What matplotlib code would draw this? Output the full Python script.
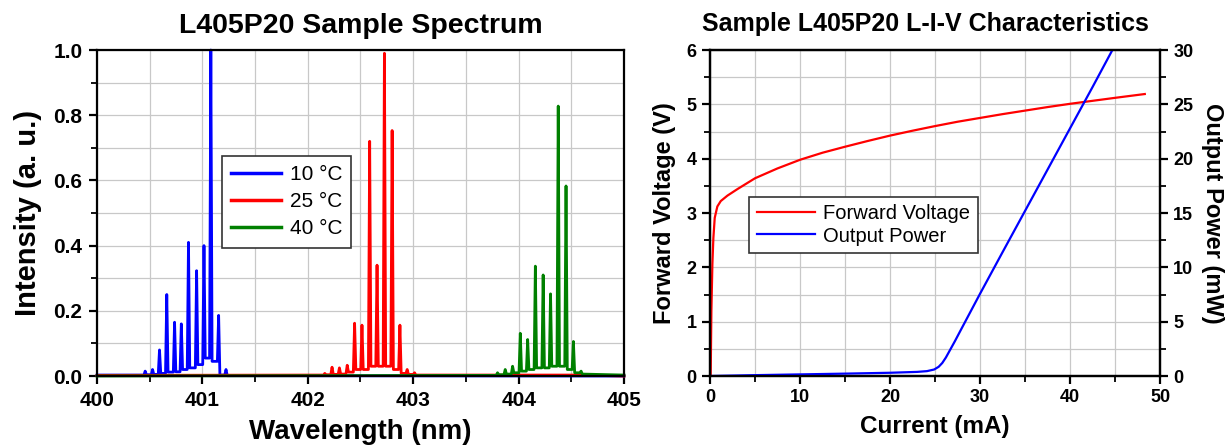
import matplotlib
matplotlib.use("Agg")
import matplotlib.pyplot as plt
from matplotlib.ticker import MultipleLocator, FormatStrFormatter

plt.rcParams['font.family'] = ['Liberation Sans', 'DejaVu Sans']

# ---------------- Spectrum data ----------------
# peak centres (nm), peak heights, and valley floors around/between the peaks
peaks_10 = [400.457, 400.527, 400.593, 400.662, 400.736, 400.800, 400.868,
            400.945, 401.015, 401.080, 401.154, 401.224]
heights_10 = [0.015, 0.02, 0.08, 0.25, 0.165, 0.16, 0.41, 0.323, 0.40, 1.0,
              0.186, 0.02]
valleys_10 = [0.003, 0.004, 0.005, 0.008, 0.012, 0.013, 0.02, 0.025, 0.035,
              0.055, 0.045, 0.003, 0.001]
lead_wl_10, lead_int_10 = [400.00], [0.003]
tail_wl_10, tail_int_10 = [401.35, 405.00], [0.001, 0.0]

peaks_25 = [402.161, 402.230, 402.300, 402.374, 402.444, 402.514, 402.587,
            402.657, 402.727, 402.800, 402.874, 402.943, 403.013]
heights_25 = [0.008, 0.027, 0.025, 0.033, 0.162, 0.156, 0.72, 0.34, 0.99,
              0.753, 0.156, 0.02, 0.01]
valleys_25 = [0.003, 0.004, 0.005, 0.006, 0.012, 0.02, 0.02, 0.03, 0.03, 0.03,
              0.02, 0.008, 0.005, 0.003]
lead_wl_25, lead_int_25 = [400.00, 402.05], [0.002, 0.003]
tail_wl_25, tail_int_25 = [404.60, 405.00], [0.003, 0.0]

peaks_40 = [403.800, 403.873, 403.943, 404.016, 404.086, 404.159, 404.233,
            404.303, 404.376, 404.450, 404.520, 404.593]
heights_40 = [0.01, 0.02, 0.03, 0.131, 0.112, 0.337, 0.31, 0.252, 0.828,
              0.583, 0.106, 0.015]
valleys_40 = [0.002, 0.004, 0.006, 0.01, 0.015, 0.02, 0.025, 0.025, 0.03,
              0.03, 0.02, 0.01, 0.006]
lead_wl_40, lead_int_40 = [400.00, 403.70], [0.0, 0.002]
tail_wl_40, tail_int_40 = [405.00], [0.003]

spec_labels = ['10 °C', '25 °C', '40 °C']
spec_colors = ['#0000ff', '#ff0000', '#008000']

# ---------------- L-I-V data ----------------
current_v = [0, 0.07, 0.15, 0.26, 0.37, 0.52, 0.81, 1.19, 1.93, 3.04, 5.0,
             7.48, 10.0, 12.5, 15.0, 17.5, 20.0, 22.5, 25.0, 27.5, 30.0, 32.5,
             35.0, 37.5, 40.0, 42.5, 45.0, 48.3]
voltage = [0, 0.0, 1.2, 2.06, 2.54, 2.91, 3.12, 3.22, 3.32, 3.44, 3.64,
           3.82, 3.98, 4.11, 4.22, 4.325, 4.425, 4.515, 4.60, 4.68, 4.75, 4.82,
           4.885, 4.95, 5.01, 5.065, 5.12, 5.19]

current_p = [0, 5, 10, 15, 20, 23, 24.1, 24.9, 25.4, 25.8, 26.2, 26.6, 27.2,
             27.9, 29.95, 32.5, 35.0, 37.5, 40.0, 42.5, 44.7]
power = [0, 0.08, 0.15, 0.22, 0.3, 0.38, 0.45, 0.6, 0.85, 1.2, 1.7, 2.3,
         3.2, 4.3, 7.5, 11.4, 15.2, 19.0, 22.8, 26.6, 30.0]

PEAK_HALF_WIDTH = 0.012  # drawing width of a spectral line foot (nm)


def spectrum_path(lead_wl, lead_int, peaks, heights, valleys, tail_wl, tail_int):
    xs, ys = list(lead_wl), list(lead_int)
    for i, (p, h) in enumerate(zip(peaks, heights)):
        xs += [p - PEAK_HALF_WIDTH, p, p + PEAK_HALF_WIDTH]
        ys += [valleys[i], h, valleys[i + 1]]
    xs += list(tail_wl)
    ys += list(tail_int)
    return xs, ys


series = [
    spectrum_path(lead_wl_10, lead_int_10, peaks_10, heights_10, valleys_10,
                  tail_wl_10, tail_int_10),
    spectrum_path(lead_wl_25, lead_int_25, peaks_25, heights_25, valleys_25,
                  tail_wl_25, tail_int_25),
    spectrum_path(lead_wl_40, lead_int_40, peaks_40, heights_40, valleys_40,
                  tail_wl_40, tail_int_40),
]

fig = plt.figure(figsize=(12.31, 4.45), dpi=100)

GRID = '#c8c8c8'
SPINE_W = 1.6


def style_axes(ax, tick_fs, pad):
    for s in ax.spines.values():
        s.set_linewidth(SPINE_W)
        s.set_color('black')
    ax.tick_params(which='major', direction='out', length=5.5, width=SPINE_W,
                   labelsize=tick_fs, pad=pad)
    ax.tick_params(which='minor', direction='out', length=4, width=1.3)
    ax.tick_params(top=False, which='both')
    for lab in ax.get_xticklabels() + ax.get_yticklabels():
        lab.set_fontweight('bold')
    ax.grid(True, which='both', color=GRID, linewidth=0.9)
    ax.set_axisbelow(True)


# ---------------- Left: spectrum ----------------
ax1 = fig.add_axes([0.0788, 0.155, 0.4281, 0.7326])
for (xs, ys), lab, c in zip(series, spec_labels, spec_colors):
    ax1.plot(xs, ys, color=c, lw=2.0, label=lab, clip_on=False)
ax1.set_xlim(400, 405)
ax1.set_ylim(0, 1.0)
ax1.xaxis.set_major_locator(MultipleLocator(1))
ax1.xaxis.set_minor_locator(MultipleLocator(0.5))
ax1.yaxis.set_major_locator(MultipleLocator(0.2))
ax1.yaxis.set_minor_locator(MultipleLocator(0.1))
ax1.yaxis.set_major_formatter(FormatStrFormatter('%.1f'))
style_axes(ax1, 15, 5)
ax1.set_xlabel('Wavelength (nm)', fontsize=20, fontweight='bold', labelpad=7)
ax1.set_ylabel('Intensity (a. u.)', fontsize=21, fontweight='bold', labelpad=8)
ax1.set_title('L405P20 Sample Spectrum', fontsize=20.5, fontweight='bold', pad=12)
leg1 = ax1.legend(loc='upper left', bbox_to_anchor=(0.237, 0.675),
                  borderaxespad=0, fontsize=15, fancybox=False, framealpha=1,
                  edgecolor='0.2', handlelength=2.4, handletextpad=0.4,
                  labelspacing=0.38, borderpad=0.45)
leg1.get_frame().set_linewidth(1.2)
for ln in leg1.get_lines():
    ln.set_linewidth(2.5)

# ---------------- Right: L-I-V ----------------
ax2 = fig.add_axes([0.5768, 0.155, 0.3656, 0.7326])
l1, = ax2.plot(current_v, voltage, color='#ff0000', lw=1.6, label='Forward Voltage')
ax2.set_xlim(0, 50)
ax2.set_ylim(0, 6)
ax2.xaxis.set_major_locator(MultipleLocator(10))
ax2.xaxis.set_minor_locator(MultipleLocator(5))
ax2.yaxis.set_major_locator(MultipleLocator(1))
ax2.yaxis.set_minor_locator(MultipleLocator(0.5))
style_axes(ax2, 13, 4)
ax2.tick_params(right=False, which='both')
ax2.set_xlabel('Current (mA)', fontsize=17.5, fontweight='bold', labelpad=6)
ax2.set_ylabel('Forward Voltage (V)', fontsize=17, fontweight='bold', labelpad=8)
ax2.set_title('Sample L405P20 L-I-V Characteristics', fontsize=18,
              fontweight='bold', pad=14, x=0.478)

ax3 = ax2.twinx()
l2, = ax3.plot(current_p, power, color='#0000ff', lw=1.6, label='Output Power')
ax3.set_ylim(0, 30)
ax3.yaxis.set_major_locator(MultipleLocator(5))
ax3.yaxis.set_minor_locator(MultipleLocator(2.5))
for s in ax3.spines.values():
    s.set_linewidth(SPINE_W)
ax3.tick_params(which='major', direction='out', length=5.5, width=SPINE_W,
                labelsize=13, pad=4)
ax3.tick_params(which='minor', direction='out', length=4, width=1.3)
for lab in ax3.get_yticklabels():
    lab.set_fontweight('bold')
ax3.set_ylabel('Output Power (mW)', fontsize=17, fontweight='bold',
               rotation=270, labelpad=22)

leg2 = ax3.legend([l1, l2], [l1.get_label(), l2.get_label()], loc='upper left',
                  bbox_to_anchor=(0.087, 0.549), borderaxespad=0, fontsize=14.5,
                  fancybox=False, framealpha=1, edgecolor='0.2',
                  handlelength=2.9, handletextpad=0.4, labelspacing=0.15,
                  borderpad=0.37)
leg2.get_frame().set_linewidth(1.2)

fig.savefig('out.png', dpi=100)
